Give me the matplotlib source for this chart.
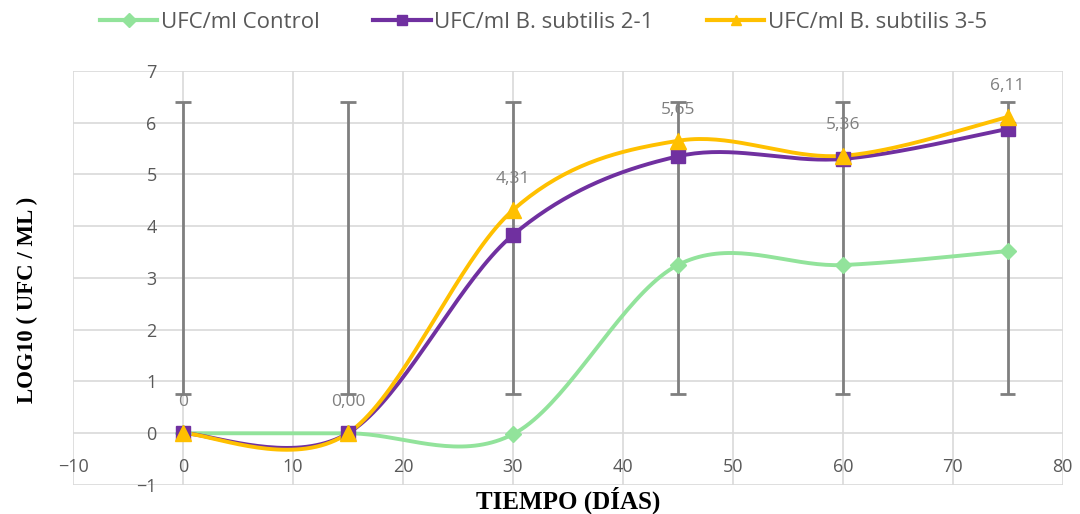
import numpy as np
import matplotlib.pyplot as plt
from matplotlib.lines import Line2D

dias = [0, 15, 30, 45, 60, 75]
control = [0.0, 0.0, -0.02, 3.25, 3.25, 3.52]
bs_2_1 = [0.0, 0.0, 3.83, 5.35, 5.30, 5.88]
bs_3_5 = [0.0, 0.0, 4.31, 5.65, 5.36, 6.11]
etiquetas = ["0", "0,00", "4,31", "5,65", "5,36", "6,11"]
err_bajo = [0.75] * 6
err_alto = [6.40] * 6

gris = '#7f7f7f'
c_control = '#92e39b'
c_21 = '#7030a0'
c_35 = '#ffc000'


def suavizar(x, y, n=40):
    # Excel-like smoothed line: cubic Bezier, control points from neighbours
    x = np.asarray(x, float)
    y = np.asarray(y, float)
    px, py = [], []
    for i in range(len(x) - 1):
        i0 = max(i - 1, 0)
        i3 = min(i + 2, len(x) - 1)
        c1x = x[i] + (x[i + 1] - x[i0]) / 6
        c1y = y[i] + (y[i + 1] - y[i0]) / 6
        c2x = x[i + 1] - (x[i3] - x[i]) / 6
        c2y = y[i + 1] - (y[i3] - y[i]) / 6
        t = np.linspace(0, 1, n)
        a, b, c, d = (1 - t) ** 3, 3 * (1 - t) ** 2 * t, 3 * (1 - t) * t ** 2, t ** 3
        px.extend(a * x[i] + b * c1x + c * c2x + d * x[i + 1])
        py.extend(a * y[i] + b * c1y + c * c2y + d * y[i + 1])
    return px, py


fig = plt.figure(figsize=(10.8, 5.14), dpi=100)
ax = fig.add_axes([0.0676, 0.0564, 0.9164, 0.8056])

# error bars (gray whiskers with caps)
for x, lo, hi in zip(dias, err_bajo, err_alto):
    ax.vlines(x, lo, hi, color=gris, lw=2, zorder=2)
    ax.hlines([lo, hi], x - 0.7, x + 0.7, color=gris, lw=2, zorder=2)

series = [
    (control, c_control, 'D', 'UFC/ml Control', 8),
    (bs_2_1, c_21, 's', 'UFC/ml B. subtilis 2-1', 10),
    (bs_3_5, c_35, '^', 'UFC/ml B. subtilis 3-5', 11),
]
handles = []
for vals, col, mk, lab, ms in series:
    sx, sy = suavizar(dias, vals)
    ax.plot(sx, sy, color=col, lw=2.8, zorder=3, solid_capstyle='round')
    ax.plot(dias, vals, ls='none', marker=mk, color=col, ms=ms, zorder=4)
    handles.append(Line2D([], [], color=col, lw=3, marker=mk, ms=7, label=lab))

for x, y, t in zip(dias, bs_3_5, etiquetas):
    ax.annotate(t, (x, y), xytext=(0, 31), textcoords='offset pixels',
                ha='center', va='center', color=gris, fontsize=12.5,
                family='Open Sans', zorder=5)

ax.set_xlim(-10, 80)
ax.set_ylim(-1, 7)
ax.set_xticks(range(-10, 81, 10))
ax.set_yticks(range(-1, 8))
ax.grid(True, color='#d9d9d9', lw=1.2)
ax.set_axisbelow(True)
for s in ax.spines.values():
    s.set_visible(False)
ax.spines['left'].set_position(('data', 0))
ax.spines['bottom'].set_position(('data', 0))
ax.tick_params(length=0, labelsize=13, labelcolor='#595959')
ax.tick_params(axis='x', pad=18)
ax.tick_params(axis='y', pad=19)
for lb in ax.get_xticklabels() + ax.get_yticklabels():
    lb.set_family('Open Sans')

fig.text(0.526, 0.027, 'TIEMPO (DÍAS)', ha='center', va='center',
         family='Liberation Serif', weight='bold', fontsize=18)
fig.text(0.025, 0.416, 'LOG10 ( UFC / ML )', ha='center', va='center',
         rotation=90, family='Liberation Serif', weight='bold', fontsize=16.5)

fig.legend(handles=handles, loc='center', bbox_to_anchor=(0.503, 0.957),
           ncol=3, frameon=False, columnspacing=2.4, handlelength=2.6,
           handletextpad=0.15, prop={'family': 'Open Sans', 'size': 16},
           labelcolor='#595959')

fig.savefig('out.png', dpi=100)
